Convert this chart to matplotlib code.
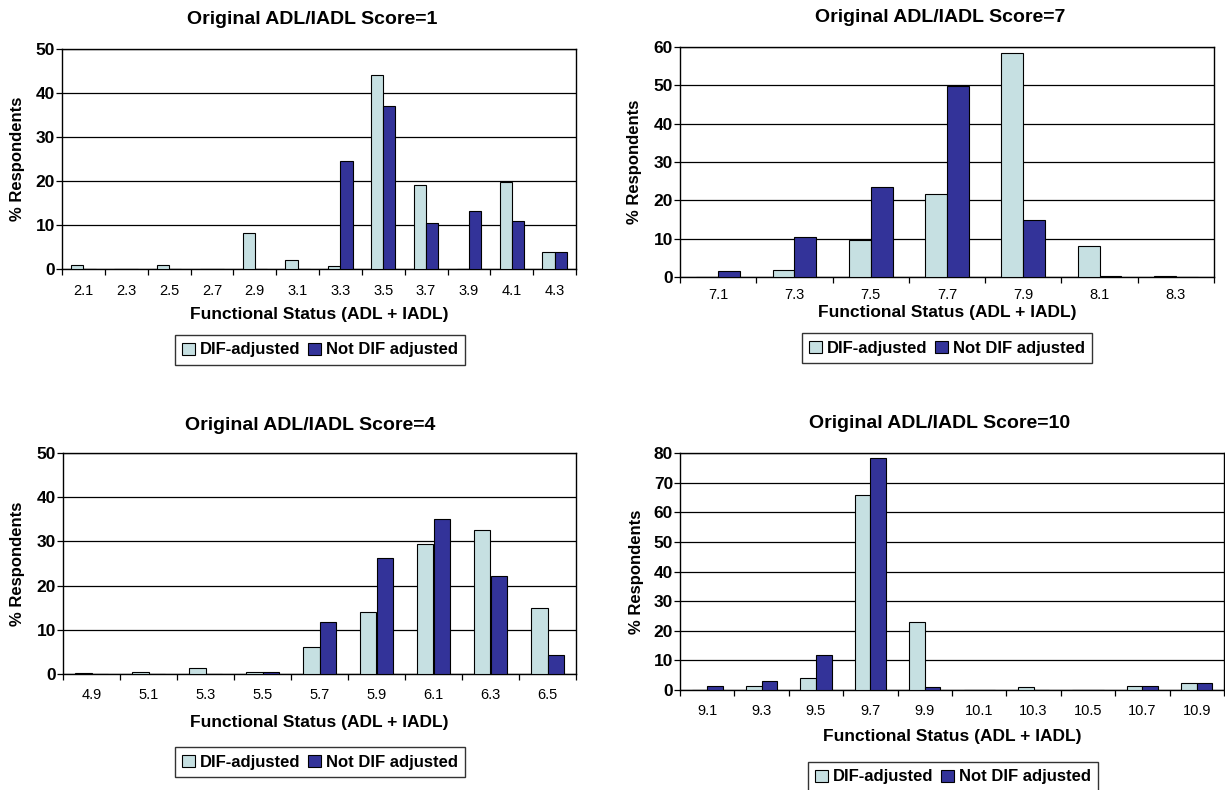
import numpy as np
import matplotlib
matplotlib.use('Agg')
import matplotlib.pyplot as plt
from matplotlib.patches import Patch

plt.rcParams['font.family'] = ['Liberation Sans', 'DejaVu Sans']

# Data (percent of respondents)
p1_cats = ['2.1', '2.3', '2.5', '2.7', '2.9', '3.1', '3.3', '3.5', '3.7', '3.9', '4.1', '4.3']
p1_dif = [1.0, 0, 0.8, 0, 8.2, 2.1, 0.6, 44.1, 19.0, 0, 19.7, 3.9]
p1_not = [0, 0, 0, 0, 0, 0, 24.6, 37.0, 10.4, 13.2, 11.0, 3.9]

p2_cats = ['7.1', '7.3', '7.5', '7.7', '7.9', '8.1', '8.3']
p2_dif = [0, 1.8, 9.7, 21.6, 58.5, 8.1, 0.3]
p2_not = [1.5, 10.4, 23.4, 49.8, 14.9, 0.3, 0]

p3_cats = ['4.9', '5.1', '5.3', '5.5', '5.7', '5.9', '6.1', '6.3', '6.5']
p3_dif = [0.2, 0.4, 1.3, 0.4, 6.2, 14.0, 29.4, 32.6, 14.9]
p3_not = [0, 0, 0, 0.4, 11.7, 26.3, 35.0, 22.1, 4.3]

p4_cats = ['9.1', '9.3', '9.5', '9.7', '9.9', '10.1', '10.3', '10.5', '10.7', '10.9']
p4_dif = [0, 1.3, 4.2, 65.8, 23.1, 0, 1.0, 0, 1.4, 2.4]
p4_not = [1.4, 3.1, 11.7, 78.3, 1.0, 0, 0, 0, 1.4, 2.4]

titles = ['Original ADL/IADL Score=1', 'Original ADL/IADL Score=7',
          'Original ADL/IADL Score=4', 'Original ADL/IADL Score=10']
series_names = ['DIF-adjusted', 'Not DIF adjusted']
c_light = '#C6E0E2'
c_dark = '#333399'

W, H = 1225, 790
fig = plt.figure(figsize=(W / 100, H / 100), dpi=100)


def fx(x):
    return x / W


def fy(y):
    return 1 - y / H


def panel(box, cats, dif, notdif, ymax, title, title_xy, xlab_y, ylab_x, leg_xy, tick_pad):
    x0, y0, x1, y1 = box
    ax = fig.add_axes([fx(x0), fy(y1), fx(x1 - x0), (y1 - y0) / H])
    n = len(cats)
    idx = np.arange(n)
    w = 1 / 3.5
    ax.bar(idx - w / 2, dif, w, color=c_light, edgecolor='black', linewidth=0.8, zorder=3)
    ax.bar(idx + w / 2, notdif, w, color=c_dark, edgecolor='black', linewidth=0.8, zorder=3)
    ax.set_xlim(-0.5, n - 0.5)
    ax.set_ylim(0, ymax)
    ax.set_yticks(np.arange(0, ymax + 1, 10))
    ax.yaxis.grid(True, color='black', linewidth=0.9)
    ax.set_axisbelow(True)
    ax.set_xticks(idx)
    ax.set_xticklabels(cats, fontsize=10.5)
    ax.set_xticks(np.arange(n + 1) - 0.5, minor=True)
    ax.tick_params(axis='x', which='major', length=0, pad=tick_pad)
    ax.tick_params(axis='x', which='minor', length=4, width=0.9, direction='out')
    ax.tick_params(axis='y', length=4, width=0.9, pad=1, labelsize=12.5)
    for lab in ax.get_yticklabels():
        lab.set_fontweight('bold')
    for sp in ax.spines.values():
        sp.set_linewidth(1.0)
        sp.set_color('black')
    fig.text(fx(title_xy[0]), fy(title_xy[1]), title, ha='center', va='center',
             fontsize=14, fontweight='bold')
    fig.text(fx((x0 + x1) / 2), fy(xlab_y), 'Functional Status (ADL + IADL)', ha='center',
             va='center', fontsize=12.5, fontweight='bold')
    fig.text(fx(ylab_x), fy((y0 + y1) / 2), '% Respondents', ha='center', va='center',
             rotation=90, fontsize=12, fontweight='bold')
    handles = [Patch(facecolor=c_light, edgecolor='black', linewidth=0.8),
               Patch(facecolor=c_dark, edgecolor='black', linewidth=0.8)]
    leg = fig.legend(handles, series_names, loc='center', ncol=2,
                     bbox_to_anchor=(fx(leg_xy[0]), fy(leg_xy[1])),
                     prop={'weight': 'bold', 'size': 12}, frameon=True, fancybox=False,
                     edgecolor='black', handlelength=0.75, handleheight=0.75,
                     handletextpad=0.3, columnspacing=0.5, borderpad=0.45)
    leg.get_frame().set_linewidth(1.0)
    return ax


panel((62, 49, 576, 269), p1_cats, p1_dif, p1_not, 50, titles[0], (312, 20), 315, 18, (320, 350), 11)
panel((680, 47, 1214, 277), p2_cats, p2_dif, p2_not, 60, titles[1], (940, 17), 312, 634, (947, 348), 8)
panel((63, 453, 576, 674), p3_cats, p3_dif, p3_not, 50, titles[2], (310, 425), 722, 18, (320, 762), 10)
panel((680, 453, 1224, 690), p4_cats, p4_dif, p4_not, 80, titles[3], (940, 423), 737, 637, (953, 777), 10)

fig.savefig('out.png', dpi=100)
